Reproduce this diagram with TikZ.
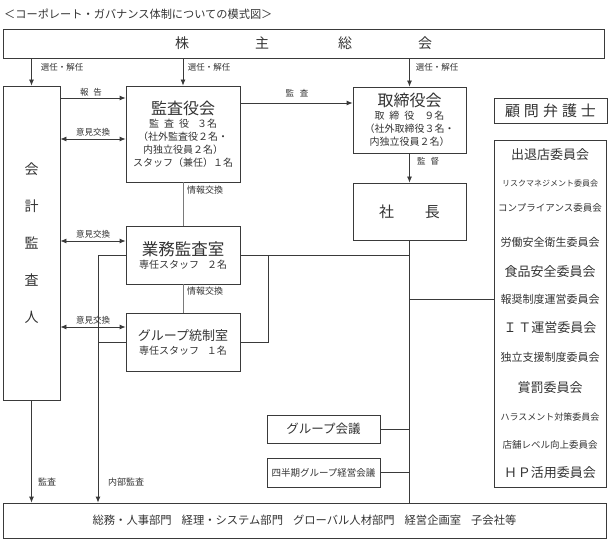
\documentclass[tikz,border=0pt]{standalone}
\usepackage{fontspec}
\setmainfont{Noto Sans CJK JP}
\usetikzlibrary{arrows.meta,calc}
\definecolor{lc}{HTML}{3A3A3A}
\definecolor{tc}{HTML}{333333}
\definecolor{lg}{HTML}{7A7A7A}
\newcommand{\jfs}[1]{\fontsize{#1}{#1}\selectfont}
\begin{document}
\begin{tikzpicture}[x=1pt,y=-1pt,
  bx/.style={draw=lc,line width=0.8pt,inner sep=0pt,text=tc,align=center},
  lnd/.style={draw=lc,line width=0.8pt},
  lnl/.style={draw=lg,line width=0.8pt},
  arr/.style={lnd,-{Latex[length=6pt,width=5pt]}},
  darr/.style={lnd,{Latex[length=6pt,width=5pt]}-{Latex[length=6pt,width=5pt]}},
  lab/.style={text=tc,font=\jfs{8.5},inner sep=0pt},
  cmt/.style={text=tc,inner sep=0pt},
  ]
\useasboundingbox (0,0) rectangle (610,540);

\node[anchor=west,text=tc,font=\jfs{11.2},inner sep=0pt] (title) at (4,14) {＜コーポレート・ガバナンス体制についての模式図＞};

\node[bx,minimum width=601pt,minimum height=29pt,font=\jfs{14}] (sh) at (303.5,43.5)
  {株\hspace{66pt}主\hspace{69pt}総\hspace{66pt}会};

\node[bx,minimum width=57pt,minimum height=314pt,font={\jfs{14}\baselineskip=16pt}] (aud) at (31.5,243)
  {会\\[21pt]計\\[21pt]監\\[21pt]査\\[21pt]人};

\node[bx,minimum width=114pt,minimum height=96pt,font={\jfs{10}\baselineskip=13pt}] (kan) at (183,134)
  {{\jfs{16}監査役会}\\[0pt]監\hspace{5pt}査\hspace{5pt}役\hspace{8pt}３名\\（社外監査役２名・\\内独立役員２名）\\スタッフ（兼任）１名};

\node[bx,minimum width=113pt,minimum height=66pt,font={\jfs{10}\baselineskip=13pt}] (tori) at (409.5,120)
  {{\jfs{16}取締役会}\\[0pt]取\hspace{5pt}締\hspace{5pt}役\hspace{10pt}９名\\（社外取締役３名・\\内独立役員２名）};

\node[bx,minimum width=113pt,minimum height=57pt,font=\jfs{15}] (pres) at (409.5,211.5)
  {社\hspace{31pt}長};

\node[bx,minimum width=114pt,minimum height=58pt,font={\jfs{10}\baselineskip=13pt}] (gyomu) at (183,255)
  {{\jfs{16.5}業務監査室}\\[0pt]専任スタッフ\hspace{8pt}２名};

\node[bx,minimum width=114pt,minimum height=58pt,font={\jfs{10}\baselineskip=13pt}] (grp) at (183,342)
  {{\jfs{13}グループ統制室}\\[1pt]専任スタッフ\hspace{8pt}１名};

\node[bx,minimum width=113pt,minimum height=25pt,font=\jfs{15}] (komon) at (550.5,110.5)
  {顧\hspace{4pt}問\hspace{4pt}弁\hspace{4pt}護\hspace{4pt}士};

\node[bx,minimum width=112pt,minimum height=347pt] (iin) at (550,313.5) {};
\node[cmt,font=\jfs{13}]  (c1)  at (550,155) {出退店委員会};
\node[cmt,font=\jfs{8}]   (c2)  at (550,183) {リスクマネジメント委員会};
\node[cmt,font=\jfs{9.5}] (c3)  at (550,208) {コンプライアンス委員会};
\node[cmt,font=\jfs{11}]  (c4)  at (550,242) {労働安全衛生委員会};
\node[cmt,font=\jfs{13}]  (c5)  at (550,272) {食品安全委員会};
\node[cmt,font=\jfs{11}]  (c6)  at (550,299) {報奨制度運営委員会};
\node[cmt,font=\jfs{13}]  (c7)  at (550,328) {Ｉ\hspace{2pt}Ｔ運営委員会};
\node[cmt,font=\jfs{11}]  (c8)  at (550,357) {独立支援制度委員会};
\node[cmt,font=\jfs{13}]  (c9)  at (550,388) {賞罰委員会};
\node[cmt,font=\jfs{9}]   (c10) at (550,417) {ハラスメント対策委員会};
\node[cmt,font=\jfs{9.5}] (c11) at (550,445) {店舗レベル向上委員会};
\node[cmt,font=\jfs{13}]  (c12) at (550,473) {Ｈ\hspace{1pt}Ｐ活用委員会};

\node[bx,minimum width=113pt,minimum height=28pt,font=\jfs{12.5}] (gk) at (323.5,429) {グループ会議};
\node[bx,minimum width=113pt,minimum height=29pt,font=\jfs{9.5}] (shh) at (323.5,472.5) {四半期グループ経営会議};

\node[bx,minimum width=603pt,minimum height=35pt,font=\jfs{11.3}] (bot) at (304.5,520.5)
  {総務・人事部門\hspace{10pt}経理・システム部門\hspace{10pt}グローバル人材部門\hspace{10pt}経営企画室\hspace{10pt}子会社等};

% helper coordinates
\coordinate (y98) at (0,98);
\coordinate (y139) at (0,139);
\coordinate (y103) at (0,103);
\coordinate (y241) at (0,241);
\coordinate (y327) at (0,327);
\coordinate (y299) at (0,299);
\coordinate (j1) at (268,255);
\coordinate (ia) at (98,255);

% from shareholders
\draw[arr] (aud.north |- sh.south) -- (aud.north);
\draw[arr] (kan.north |- sh.south) -- (kan.north);
\draw[arr] (tori.north |- sh.south) -- (tori.north);
\node[lab] (l1) at (62,67) {選任・解任};
\node[lab] (l2) at (209,67) {選任・解任};
\node[lab] (l3) at (437,67) {選任・解任};

% auditor to kansayaku
\draw[arr] (aud.east |- y98) -- (kan.west |- y98);
\node[lab] (l4) at (91,92) {報\hspace{5pt}告};
\draw[darr] (aud.east |- y139) -- (kan.west |- y139);
\node[lab] (l5) at (93,132) {意見交換};
\draw[darr] (aud.east |- y241) -- (gyomu.west |- y241);
\node[lab] (l6) at (93,234) {意見交換};
\draw[darr] (aud.east |- y327) -- (grp.west |- y327);
\node[lab] (l7) at (93,320) {意見交換};

% kansa to board
\draw[arr] (kan.east |- y103) -- (tori.west |- y103);
\node[lab] (l8) at (297,93) {監\hspace{6pt}査};
\draw[arr] (tori.south) -- (pres.north);
\node[lab] (l9) at (428,161) {監\hspace{5pt}督};

% info exchange
\draw[lnl] (kan.south) -- (gyomu.north);
\node[lab,anchor=west,font=\jfs{9}] (l10) at (187,190) {情報交換};
\draw[lnl] (gyomu.south) -- (grp.north);
\node[lab,anchor=west,font=\jfs{9}] (l11) at (187,291) {情報交換};

% president trunk
\draw[lnd] (pres.south) -- (pres.south |- bot.north);
\draw[lnd] (gyomu.east) -- (pres.south |- gyomu.east);
\draw[lnd] (grp.east) -- (grp.east -| j1) -- (j1);
\draw[lnd] (pres.south |- y299) -- (iin.west |- y299);
\draw[lnd] (gk.east) -- (gk.east -| pres.south);
\draw[lnd] (shh.east) -- (shh.east -| pres.south);

% internal audit
\draw[lnd] (gyomu.west) -- (ia);
\draw[lnd] (grp.west) -- (grp.west -| ia);
\draw[arr] (ia) -- (ia |- bot.north);
\node[lab,font=\jfs{9}] (l12) at (126,482) {内部監査};

% external audit
\draw[arr] (aud.south) -- (aud.south |- bot.north);
\node[lab,font=\jfs{9}] (l13) at (47,482) {監査};
\end{tikzpicture}
\end{document}
